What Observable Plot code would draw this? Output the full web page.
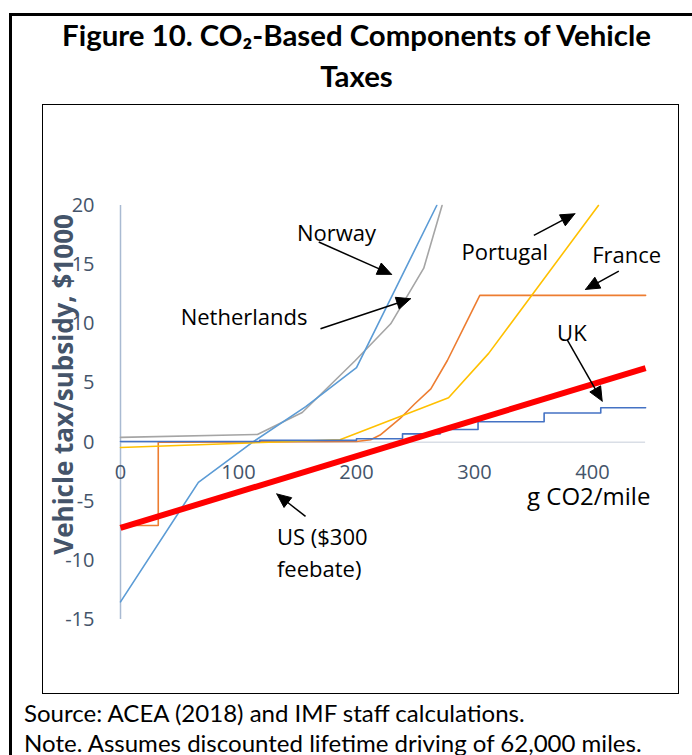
<!DOCTYPE html>
<html>
<head>
<meta charset="utf-8">
<script src="https://cdn.jsdelivr.net/npm/d3@7"></script>
<script src="https://cdn.jsdelivr.net/npm/@observablehq/plot@0.6"></script>
<style>
html, body { margin: 0; padding: 0; background: #fff; }
body { width: 692px; height: 755px; position: relative; overflow: hidden; font-family: "Open Sans", sans-serif; }
#frame { position: absolute; left: 9px; top: 13px; width: 720px; height: 800px; border-left: 3px solid #000; border-top: 3px solid #000; box-sizing: border-box; }
.tline { position: absolute; left: 0; width: 713px; text-align: center; font-family: Lato, "Open Sans", sans-serif; font-weight: 700; line-height: 1; color: #000; white-space: nowrap; }
.tline span, .foot span { display: inline-block; }
#chart { position: absolute; left: 42px; top: 104px; }
#box { position: absolute; left: 42px; top: 104px; width: 637px; height: 590px; border: 1.5px solid #000; box-sizing: border-box; pointer-events: none; }
.foot { position: absolute; left: 24px; font-family: Lato, "Open Sans", sans-serif; line-height: 1; color: #000; white-space: nowrap; }
</style>
</head>
<body>
<div id="frame"></div>
<div class="tline" id="t1"><span>Figure 10. CO₂-Based Components of Vehicle</span></div>
<div class="tline" id="t2"><span>Taxes</span></div>
<div id="chart"></div>
<div id="box"></div>
<div class="foot" id="f1"><span>Source: ACEA (2018) and IMF staff calculations.</span></div>
<div class="foot" id="f2"><span>Note. Assumes discounted lifetime driving of 62,000 miles.</span></div>
<script>
// ---------- data ----------
const xTicks = [0, 100, 200, 300, 400];
const yTicks = [-15, -10, -5, 0, 5, 10, 15, 20];

const norwayX = [0, 66, 112, 157, 200, 268];
const norwayY = [-13.5, -3.4, 0, 3.0, 6.3, 20];

const netherlandsX = [0, 116, 154, 199, 229, 257, 272.5];
const netherlandsY = [0.4, 0.65, 2.5, 6.9, 10.0, 14.7, 20];

const franceX = [0, 32, 32, 200, 212, 220, 237, 249, 263, 277, 291, 304.5, 445];
const franceY = [-7.05, -7.05, 0, 0.05, 0.2, 0.6, 2.0, 3.2, 4.5, 6.9, 9.7, 12.4, 12.4];

const portugalX = [0, 186, 278, 312, 405];
const portugalY = [-0.45, 0.2, 3.75, 7.5, 20];

const ukX = [0, 118, 200, 239, 271, 303, 359, 407, 445];
const ukY = [0.05, 0.15, 0.28, 0.7, 1.07, 1.72, 2.46, 2.91, 2.91];

const usX = [0, 445];
const usY = [-7.25, 6.26];

const xAxisEnd = 445;

const labelText = ["Norway", "Netherlands", "Portugal", "France", "UK", "US ($300", "feebate)"];
const labelX = [149.5, 51, 289, 399.8, 370, 132.6, 132.6];
const labelY = [16.99, 9.92, 15.36, 15.16, 8.54, -8.73, -11.44];

const unitText = "g CO2/mile";
const unitX = 344.5, unitY = -5.3;

const yTitle = "Vehicle tax/subsidy, $1000";
const yTitleY = 4.88;

const arrowTails = [[168.0, 16.91], [169.5, 9.58], [350.3, 17.47], [422.3, 14.45], [378.6, 8.65], [156.8, -6.28]];
const arrowTips  = [[229.7, 14.18], [245.8, 12.12], [385.0, 19.3], [394.1, 12.91], [408.2, 3.47], [132.5, -4.38]];

// ---------- layout ----------
const W = 637, H = 591, mL = 78, mR = 28, mT = 101, mB = 75.9;
const xDom = [0, 450], yDom = [-15, 20];
const kx = (W - mL - mR) / (xDom[1] - xDom[0]);
const ky = (H - mT - mB) / (yDom[1] - yDom[0]);

const rows = (xs, ys) => xs.map((x, i) => ({x, y: ys[i]}));

const styles = {
  Netherlands: {stroke: "#A5A5A5", strokeWidth: 1.6},
  Norway: {stroke: "#5B9BD5", strokeWidth: 1.6},
  France: {stroke: "#ED7D31", strokeWidth: 1.6},
  Portugal: {stroke: "#FFC000", strokeWidth: 1.6},
  UK: {stroke: "#4472C4", strokeWidth: 1.6, curve: "step-after"},
  US: {stroke: "#FF0000", strokeWidth: 6, strokeLinecap: "butt"}
};
const seriesData = {
  Netherlands: rows(netherlandsX, netherlandsY),
  Norway: rows(norwayX, norwayY),
  France: rows(franceX, franceY),
  Portugal: rows(portugalX, portugalY),
  UK: rows(ukX, ukY),
  US: rows(usX, usY)
};

// arrows: shafts and filled triangular heads
const headLen = 14, headHalf = 6.2;
const shafts = [], headPts = [];
arrowTips.forEach((tip, i) => {
  const tail = arrowTails[i];
  const dx = (tip[0] - tail[0]) * kx, dy = -(tip[1] - tail[1]) * ky;
  const L = Math.hypot(dx, dy), ux = dx / L, uy = dy / L;
  const bx = -ux * headLen, by = -uy * headLen;
  const toData = (px, py) => ({x: tip[0] + px / kx, y: tip[1] - py / ky});
  const pts = [[0, 0], [bx - uy * headHalf, by + ux * headHalf], [bx + uy * headHalf, by - ux * headHalf], [0, 0]];
  pts.forEach(p => headPts.push({id: i, ...toData(p[0], p[1])}));
  const b = toData(-ux * (headLen - 3), -uy * (headLen - 3));
  shafts.push({x1: tail[0], y1: tail[1], x2: b.x, y2: b.y});
});

const labels = labelText.map((t, i) => ({text: t, x: labelX[i], y: labelY[i]}));

const marks = [
  Plot.ruleY([0], {x1: 0, x2: xAxisEnd, stroke: "#D9DEE6", strokeWidth: 1.5}),
  Plot.ruleX([0], {y1: yDom[0], y2: yDom[1], stroke: "#A9BAD2", strokeWidth: 1.5})
];
for (const name of ["Netherlands", "Norway", "France", "Portugal", "UK", "US"]) {
  marks.push(Plot.line(seriesData[name], {x: "x", y: "y", ...styles[name]}));
}
marks.push(
  Plot.link(shafts, {x1: "x1", y1: "y1", x2: "x2", y2: "y2", stroke: "#000", strokeWidth: 1.5}),
  Plot.line(headPts, {x: "x", y: "y", z: "id", fill: "#000", stroke: "#000", strokeWidth: 1, strokeLinejoin: "miter"}),
  Plot.text(yTicks, {x: 0, y: d => d, dx: -26, text: d => String(d), textAnchor: "end", lineAnchor: "middle", fontSize: 20, fill: "#44546A"}),
  Plot.text(xTicks, {x: d => d, y: 0, dy: 30, text: d => String(d), textAnchor: "middle", lineAnchor: "middle", fontSize: 20, fill: "#44546A"}),
  Plot.text(labels, {x: "x", y: "y", text: "text", textAnchor: "start", lineAnchor: "bottom", fontSize: 22, fill: "#000"}),
  Plot.text([unitText], {x: unitX, y: unitY, text: d => d, textAnchor: "start", lineAnchor: "bottom", fontSize: 24, fill: "#000"}),
  Plot.text([yTitle], {frameAnchor: "left", dx: -56, y: yTitleY, text: d => d, rotate: -90, textAnchor: "middle", lineAnchor: "middle", fontSize: 26, fontWeight: "bold", fill: "#44546A"})
);

const chart = Plot.plot({
  width: W, height: H,
  marginLeft: mL, marginRight: mR, marginTop: mT, marginBottom: mB,
  x: {domain: xDom, axis: null},
  y: {domain: yDom, axis: null},
  style: {fontFamily: "'Open Sans', sans-serif", background: "transparent", overflow: "visible"},
  marks
});
document.getElementById("chart").appendChild(chart);

// ---------- title & footer sizing ----------
function fitSize(el, target, base) {
  el.style.fontSize = base + "px";
  const w = el.querySelector("span").getBoundingClientRect().width;
  return base * target / w;
}
const t1 = document.getElementById("t1"), t2 = document.getElementById("t2");
const tfs = fitSize(t1, 589, 26);
[t1, t2].forEach(e => e.style.fontSize = tfs + "px");
const asc = 0.887;
t1.style.top = (46 - asc * tfs) + "px";
t2.style.top = (87 - asc * tfs) + "px";

const f1 = document.getElementById("f1"), f2 = document.getElementById("f2");
const ffs = fitSize(f2, 618, 21);
[f1, f2].forEach(e => e.style.fontSize = ffs + "px");
f1.style.top = (722 - asc * ffs) + "px";
f2.style.top = (752.5 - asc * ffs) + "px";
</script>
</body>
</html>
